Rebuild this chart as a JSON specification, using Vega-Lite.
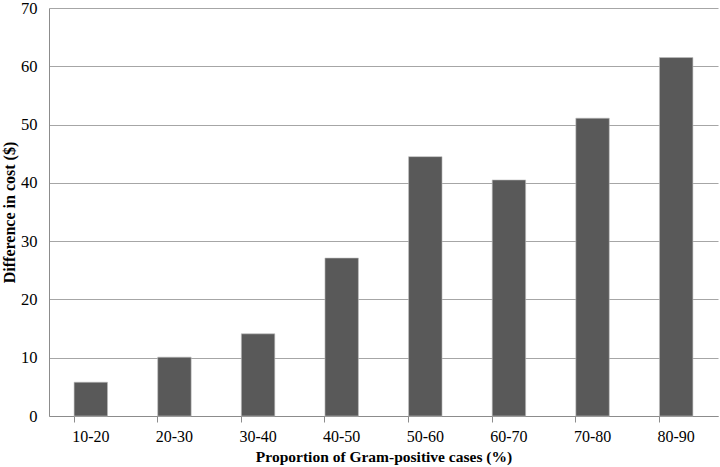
{
  "$schema": "https://vega.github.io/schema/vega-lite/v6.json",
  "width": 669,
  "height": 408,
  "autosize": {"type": "none"},
  "padding": {"left": 49, "top": 8, "right": 2, "bottom": 51},
  "background": "white",
  "data": {"values": [
    {"group": "10-20", "cost": 5.8},
    {"group": "20-30", "cost": 10.1},
    {"group": "30-40", "cost": 14.1},
    {"group": "40-50", "cost": 27.1},
    {"group": "50-60", "cost": 44.5},
    {"group": "60-70", "cost": 40.5},
    {"group": "70-80", "cost": 51.1},
    {"group": "80-90", "cost": 61.5}
  ]},
  "config": {
    "font": "Liberation Serif",
    "view": {"stroke": null},
    "axis": {"labelFont": "Liberation Serif", "titleFont": "Liberation Serif", "labelColor": "black", "titleColor": "black"}
  },
  "layer": [
    {
      "mark": {"type": "bar", "color": "#595959", "stroke": "#bfbfbf", "strokeWidth": 0.6},
      "encoding": {
        "x": {"field": "group", "type": "nominal", "sort": null,
              "scale": {"paddingInner": 0.6, "paddingOuter": 0.3},
              "axis": {"title": "Proportion of Gram-positive cases (%)", "labelAngle": 0, "labelFontSize": 16, "labelPadding": 12,
                       "ticks": false, "domainColor": "#8c8c8c", "domainWidth": 1,
                       "titleFontSize": 15.5, "titleFontWeight": "bold", "titlePadding": 5}},
        "y": {"field": "cost", "type": "quantitative",
              "scale": {"domain": [0, 70]},
              "axis": {"title": "Difference in cost ($)", "values": [0,10,20,30,40,50,60,70], "labelFontSize": 16.5, "labelPadding": 12,
                       "ticks": false, "domainColor": "#8c8c8c", "gridColor": "#a6a6a6", "gridWidth": 1.2,
                       "titleFontSize": 16, "titleFontWeight": "bold", "titlePadding": 3}}
      }
    },
    {
      "mark": {"type": "bar", "opacity": 0},
      "encoding": {
        "x": {"field": "group", "type": "nominal", "sort": null,
              "axis": {"orient": "bottom", "title": null, "labels": false, "domain": false, "ticks": true, "tickColor": "#8c8c8c", "tickSize": 6, "bandPosition": 0, "grid": false}},
        "y": {"field": "cost", "type": "quantitative"}
      }
    }
  ],
  "resolve": {"axis": {"x": "independent"}}
}
